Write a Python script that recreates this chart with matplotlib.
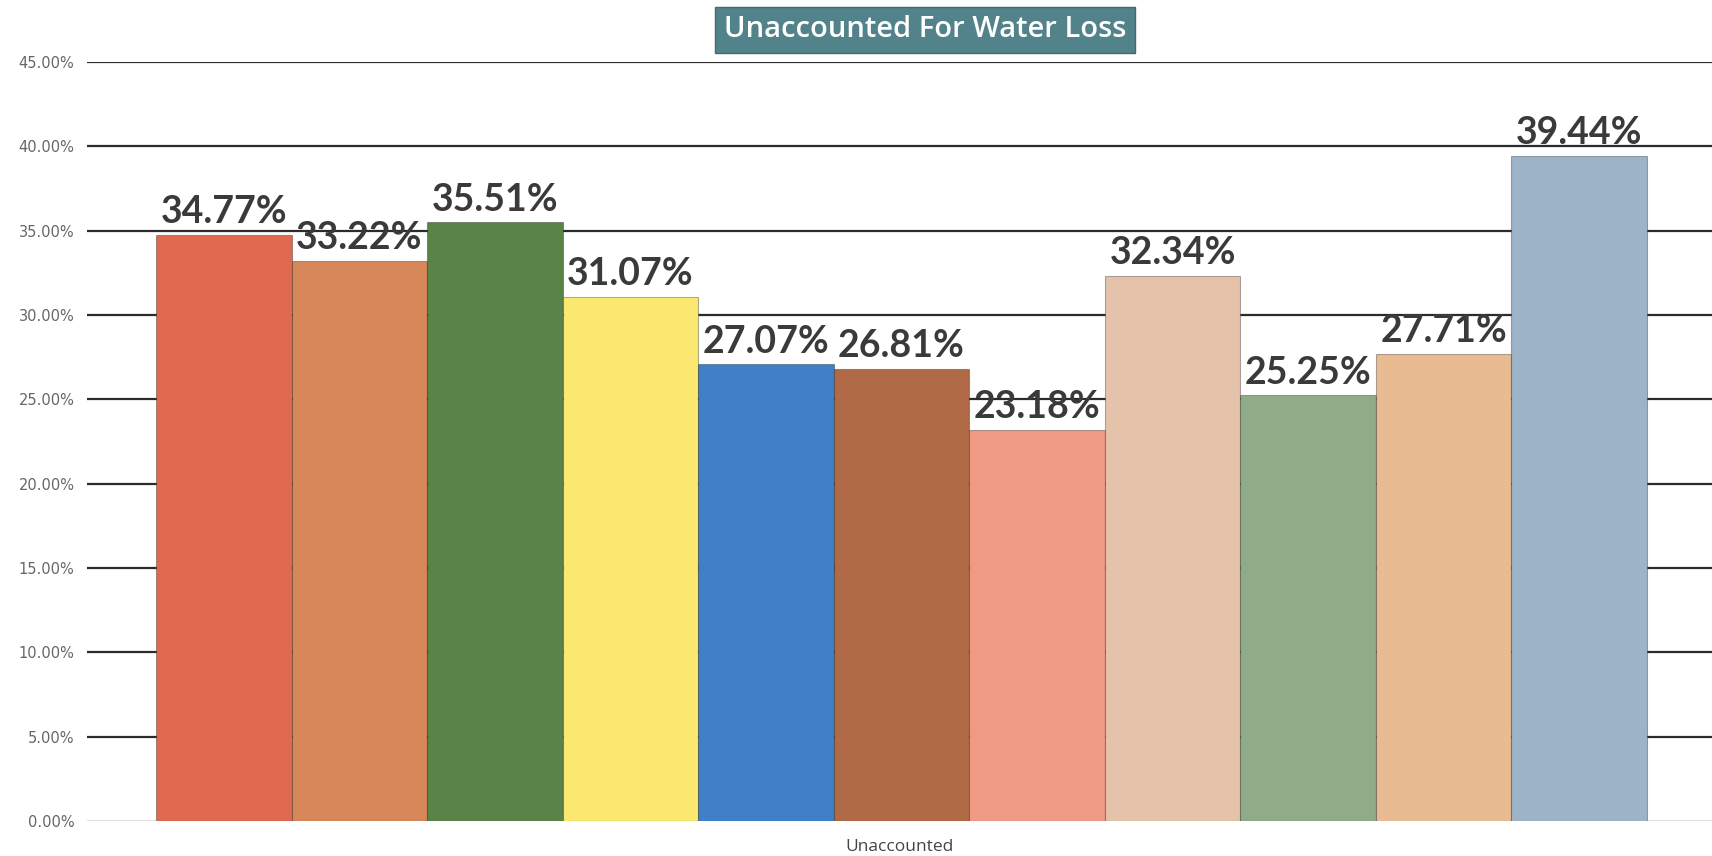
import matplotlib.pyplot as plt
import numpy as np

# data
labels = ['1', '2', '3', '4', '5', '6', '7', '8', '9', '10', '11']
values = [34.77, 33.22, 35.51, 31.07, 27.07, 26.81, 23.18, 32.34, 25.25, 27.71, 39.44]
colors = ['#E06A50', '#D7875A', '#5A8447', '#FAE870', '#3F80C8', '#B06A45',
          '#EE9A85', '#E4C3AA', '#8FAB88', '#E8BB93', '#9DB4C8']
yticks = np.arange(0, 46, 5)

fig = plt.figure(figsize=(17.12, 8.56), dpi=100)
ax = fig.add_axes([87/1712, 35/856, 1 - 87/1712, (821 - 62)/856])

x = np.arange(len(values))
bars = ax.bar(x, values, width=1.0, color=colors,
              edgecolor=(0, 0, 0, 0.3), linewidth=0.8, zorder=2)

# value labels above each bar
for b, v in zip(bars, values):
    ax.annotate('%.2f%%' % v, (b.get_x() + b.get_width()/2, v),
                xytext=(0, 4), textcoords='offset points',
                ha='center', va='bottom', fontsize=27, fontweight='bold',
                family='Lato', color='#3a3a3a', zorder=4)

ax.set_xlim(-1.01, 10.98)
ax.set_ylim(0, 45)
ax.set_yticks(yticks)
ax.set_yticklabels(['%.2f%%' % t for t in yticks], fontsize=10.5, color='#666666')
ax.tick_params(axis='y', length=0, pad=9)
ax.set_xticks([])
ax.set_axisbelow(True)
ax.yaxis.grid(True, color='#2b2b2b', linewidth=1.6)
ax.get_ygridlines()[0].set_color('#e2e2e2')  # baseline is faint
for s in ax.spines.values():
    s.set_visible(False)

ax.set_xlabel('Unaccounted', fontsize=12.5, family='Open Sans', color='#444444', labelpad=13)

# title in a teal box
fig.text(0.5405, 0.965, 'Unaccounted For Water Loss', ha='center', va='center',
         fontsize=21, family='Open Sans', fontweight='semibold', color='white',
         bbox=dict(boxstyle='square,pad=0.3', facecolor='#52828A', edgecolor='#3f6a72'))

plt.savefig('out.png', dpi=100)
